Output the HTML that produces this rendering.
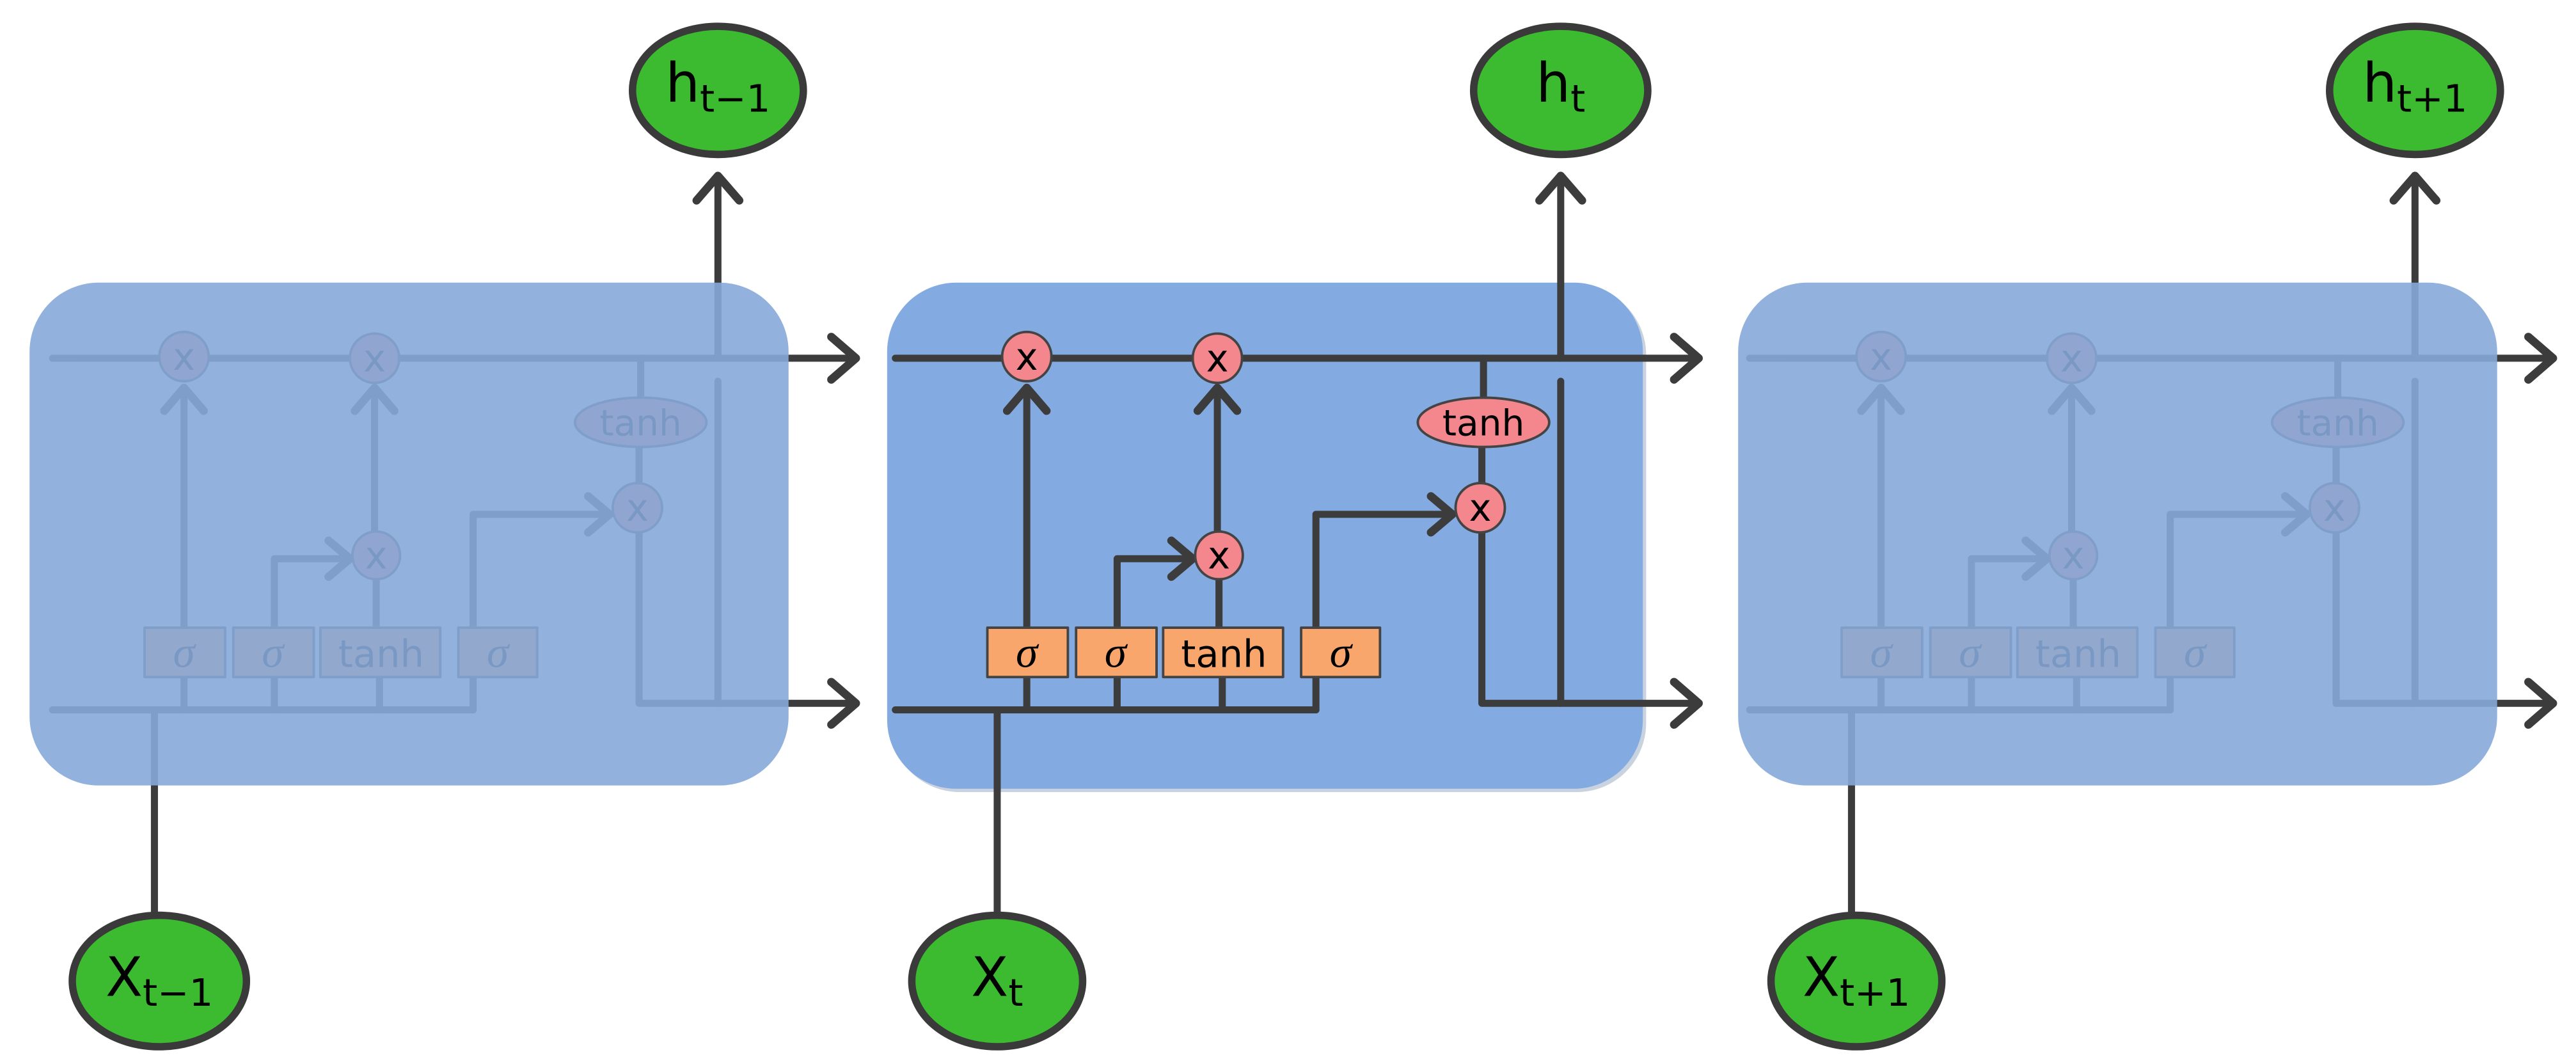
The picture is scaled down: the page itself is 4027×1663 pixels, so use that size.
<!DOCTYPE html>
<html><head><meta charset="utf-8"><style>
html,body{margin:0;padding:0;background:#fff;}
svg{display:block;}
text{font-family:"DejaVu Sans","Liberation Sans",sans-serif;fill:#000;}
</style></head><body>
<svg width="4027" height="1663" viewBox="0 0 1568 647.5" preserveAspectRatio="none" xmlns="http://www.w3.org/2000/svg">
<defs>
<g id="cell" fill="none" stroke="#3c3c3c" stroke-width="4.3" stroke-linecap="round" stroke-linejoin="round">
  <path d="M545 218 H1033"/>
  <polyline points="1019,205 1034,218 1019,231" stroke-width="5"/>
  <path d="M545 432 H801"/>
  <path d="M902 324 V428 H1033"/>
  <polyline points="1019,415 1034,428 1019,441" stroke-width="5"/>
  <path d="M625 412 V432 M680 412 V432 M744 412 V432 M801 412 V432"/>
  <path d="M625 382 V236"/>
  <polyline points="613,250 625,236 637,250" stroke-width="5"/>
  <path d="M741 324 V236"/>
  <polyline points="729,250 741,236 753,250" stroke-width="5"/>
  <path d="M742 382 V352"/>
  <path d="M680 382 V340 H726"/>
  <polyline points="713,329 726,340 713,351" stroke-width="5"/>
  <path d="M801 382 V313 H884"/>
  <polyline points="871,302 884,313 871,324" stroke-width="5"/>
  <path d="M903 218 V242 M902 272 V294"/>
  <path d="M950 218 V108"/>
  <polyline points="937,122 950,107 963,122" stroke-width="5"/>
  <path d="M950 232 V428"/>
  <path d="M607 432 V557"/>
  <g stroke-width="1.5" stroke="#444">
    <circle cx="625" cy="217" r="15" fill="#f4878e"/>
    <circle cx="741" cy="218" r="15" fill="#f4878e"/>
    <circle cx="742" cy="338" r="14.5" fill="#f4878e"/>
    <circle cx="901" cy="309" r="15" fill="#f4878e"/>
    <ellipse cx="903" cy="257" rx="40" ry="15" fill="#f4878e"/>
    <rect x="601" y="382" width="49" height="30" fill="#f9a66c"/>
    <rect x="655" y="382" width="49" height="30" fill="#f9a66c"/>
    <rect x="708" y="382" width="73" height="30" fill="#f9a66c"/>
    <rect x="792" y="382" width="48" height="30" fill="#f9a66c"/>
  </g>
  <g stroke="none">
    <text x="625" y="225" font-size="23" text-anchor="middle">x</text>
    <text x="741" y="226" font-size="23" text-anchor="middle">x</text>
    <text x="742" y="346" font-size="23" text-anchor="middle">x</text>
    <text x="901" y="317" font-size="23" text-anchor="middle">x</text>
    <text x="903" y="265" font-size="22" text-anchor="middle">tanh</text>
    <text x="625" y="406" font-size="27" font-style="italic" text-anchor="middle" style="font-family:'Liberation Serif',serif">σ</text>
    <text x="679" y="406" font-size="27" font-style="italic" text-anchor="middle" style="font-family:'Liberation Serif',serif">σ</text>
    <text x="745" y="406" font-size="23" text-anchor="middle">tanh</text>
    <text x="816" y="406" font-size="27" font-style="italic" text-anchor="middle" style="font-family:'Liberation Serif',serif">σ</text>
  </g>
</g>
</defs>

<use href="#cell" x="-513"/>
<rect x="18" y="172" width="462" height="306" rx="42" fill="#86a8d8" fill-opacity="0.9"/>
<use href="#cell" x="520"/>
<rect x="1058" y="172" width="462" height="306" rx="42" fill="#86a8d8" fill-opacity="0.9"/>
<rect x="542" y="174" width="460" height="308" rx="42" fill="#c9d3df"/>
<rect x="540" y="172" width="460" height="308" rx="42" fill="#84abe1"/>
<use href="#cell" x="0"/>

<g fill="#3cbb31" stroke="#3a3a3a" stroke-width="4.5">
  <ellipse cx="437" cy="55" rx="52" ry="39"/>
  <ellipse cx="950" cy="55" rx="53" ry="39"/>
  <ellipse cx="1470" cy="55" rx="52" ry="39"/>
  <ellipse cx="97" cy="597" rx="53" ry="40"/>
  <ellipse cx="607" cy="597" rx="52" ry="40"/>
  <ellipse cx="1130" cy="597" rx="52" ry="40"/>
</g>
<g font-size="33">
  <text x="437" y="62" text-anchor="middle">h<tspan font-size="23" dy="6">t−1</tspan></text>
  <text x="950" y="62" text-anchor="middle">h<tspan font-size="23" dy="6">t</tspan></text>
  <text x="1470" y="62" text-anchor="middle">h<tspan font-size="23" dy="6">t+1</tspan></text>
  <text x="97" y="606" text-anchor="middle">X<tspan font-size="23" dy="6">t−1</tspan></text>
  <text x="607" y="606" text-anchor="middle">X<tspan font-size="23" dy="6">t</tspan></text>
  <text x="1130" y="606" text-anchor="middle">X<tspan font-size="23" dy="6">t+1</tspan></text>
</g>
</svg>
</body></html>
